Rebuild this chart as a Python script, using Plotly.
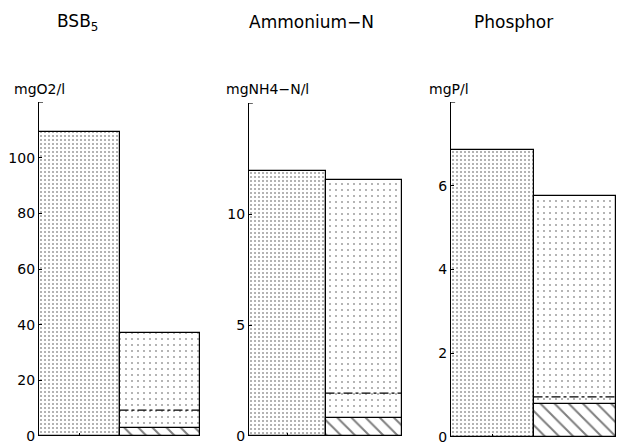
import plotly.graph_objects as go

# Data
titles = ["BSB<sub>5</sub>", "Ammonium\u2212N", "Phosphor"]
units = ["mgO2/l", "mgNH4\u2212N/l", "mgP/l"]
inflow = [109.4, 11.95, 6.85]          # left bar (dense dots)
outflow_total = [36.9, 11.55, 5.76]    # right bar (sparse dots)
outflow_hatched = [3.0, 0.79, 0.78]    # hatched base of right bar
dashdot_level = [9.3, 1.93, 0.96]      # dash-dot line in right bar
y_max = [120, 15, 8]
tick_vals = [[0, 20, 40, 60, 80, 100], [0, 5, 10], [0, 2, 4, 6]]
tick_text = [["0", "20", "40", "60", "80", "100"], ["0", "5", "10"], ["0", "2", "4", "6"]]

W, H = 617, 446
# pixel layout (positions only)
x_px = [(39, 200), (249, 402), (451, 616)]
y_px = [(102, 436), (103, 436), (102, 437)]
title_x = [77, 312, 513]
unit_x = [12, 224, 427]

fig = go.Figure()
FONT = "DejaVu Sans"

for i in range(3):
    xa = "x" if i == 0 else f"x{i+1}"
    ya = "y" if i == 0 else f"y{i+1}"
    # left bar
    fig.add_trace(go.Bar(
        x=[0.5], y=[inflow[i]], width=[1], xaxis=xa, yaxis=ya,
        marker=dict(color="white", line=dict(color="black", width=1.2),
                    pattern=dict(shape=".", size=4, solidity=0.2, fgcolor="#333", bgcolor="white")),
        showlegend=False, hoverinfo="skip"))
    # right bar total
    fig.add_trace(go.Bar(
        x=[1.5], y=[outflow_total[i]], width=[1], xaxis=xa, yaxis=ya,
        marker=dict(color="white", line=dict(color="black", width=1.2),
                    pattern=dict(shape=".", size=6, solidity=0.1, fgcolor="#444", bgcolor="white")),
        showlegend=False, hoverinfo="skip"))
    # hatched base
    fig.add_trace(go.Bar(
        x=[1.5], y=[outflow_hatched[i]], width=[1], xaxis=xa, yaxis=ya,
        marker=dict(color="white", line=dict(color="black", width=1.2),
                    pattern=dict(shape="\\", size=10, solidity=0.2, fgcolor="black", bgcolor="white")),
        showlegend=False, hoverinfo="skip"))
    # dash-dot line
    fig.add_trace(go.Scatter(
        x=[1.0, 2.0], y=[dashdot_level[i]] * 2, xaxis=xa, yaxis=ya, mode="lines",
        line=dict(color="black", width=1.2, dash="dashdot"),
        showlegend=False, hoverinfo="skip"))

    x0, x1 = x_px[i]
    yt, yb = y_px[i]
    xd = [x0 / W, x1 / W]
    yd = [1 - yb / H, 1 - yt / H]
    xkey = "xaxis" if i == 0 else f"xaxis{i+1}"
    ykey = "yaxis" if i == 0 else f"yaxis{i+1}"
    fig.update_layout(**{
        xkey: dict(domain=xd, range=[0, 2], anchor=ya, showgrid=False, zeroline=False,
                   showline=False, tickvals=[0.5], showticklabels=False, ticks="inside", ticklen=3,
                   tickcolor="black", fixedrange=True),
        ykey: dict(domain=yd, range=[0, y_max[i]], anchor=xa, showgrid=False, zeroline=False,
                   showline=True, linecolor="black", linewidth=1.2, tickvals=tick_vals[i],
                   ticktext=tick_text[i], ticks="inside", ticklen=3, tickcolor="black",
                   ticklabeloverflow="allow", automargin=False,
                   tickfont=dict(family=FONT, size=14, color="black"), fixedrange=True),
    })
    # small tick at top end of the y axis
    fig.add_shape(type="line", xref=f"{xa} domain", yref=ya, x0=0, x1=0.025,
                  y0=y_max[i], y1=y_max[i], line=dict(color="black", width=1.2))
    fig.add_annotation(text=titles[i], xref="paper", yref="paper", x=title_x[i] / W, y=1 - 22 / H,
                       xanchor="center", yanchor="middle", showarrow=False,
                       font=dict(family=FONT, size=17, color="black"))
    fig.add_annotation(text=units[i], xref="paper", yref="paper", x=unit_x[i] / W, y=1 - 89 / H,
                       xanchor="left", yanchor="middle", showarrow=False,
                       font=dict(family=FONT, size=14, color="black"))

fig.update_layout(
    width=W, height=H, barmode="overlay", bargap=0,
    margin=dict(l=0, r=0, t=0, b=0),
    paper_bgcolor="white", plot_bgcolor="white",
)

fig.write_html("out.html", config={"displayModeBar": False},
               post_script="document.body.style.margin='0';document.body.style.overflow='hidden';")
